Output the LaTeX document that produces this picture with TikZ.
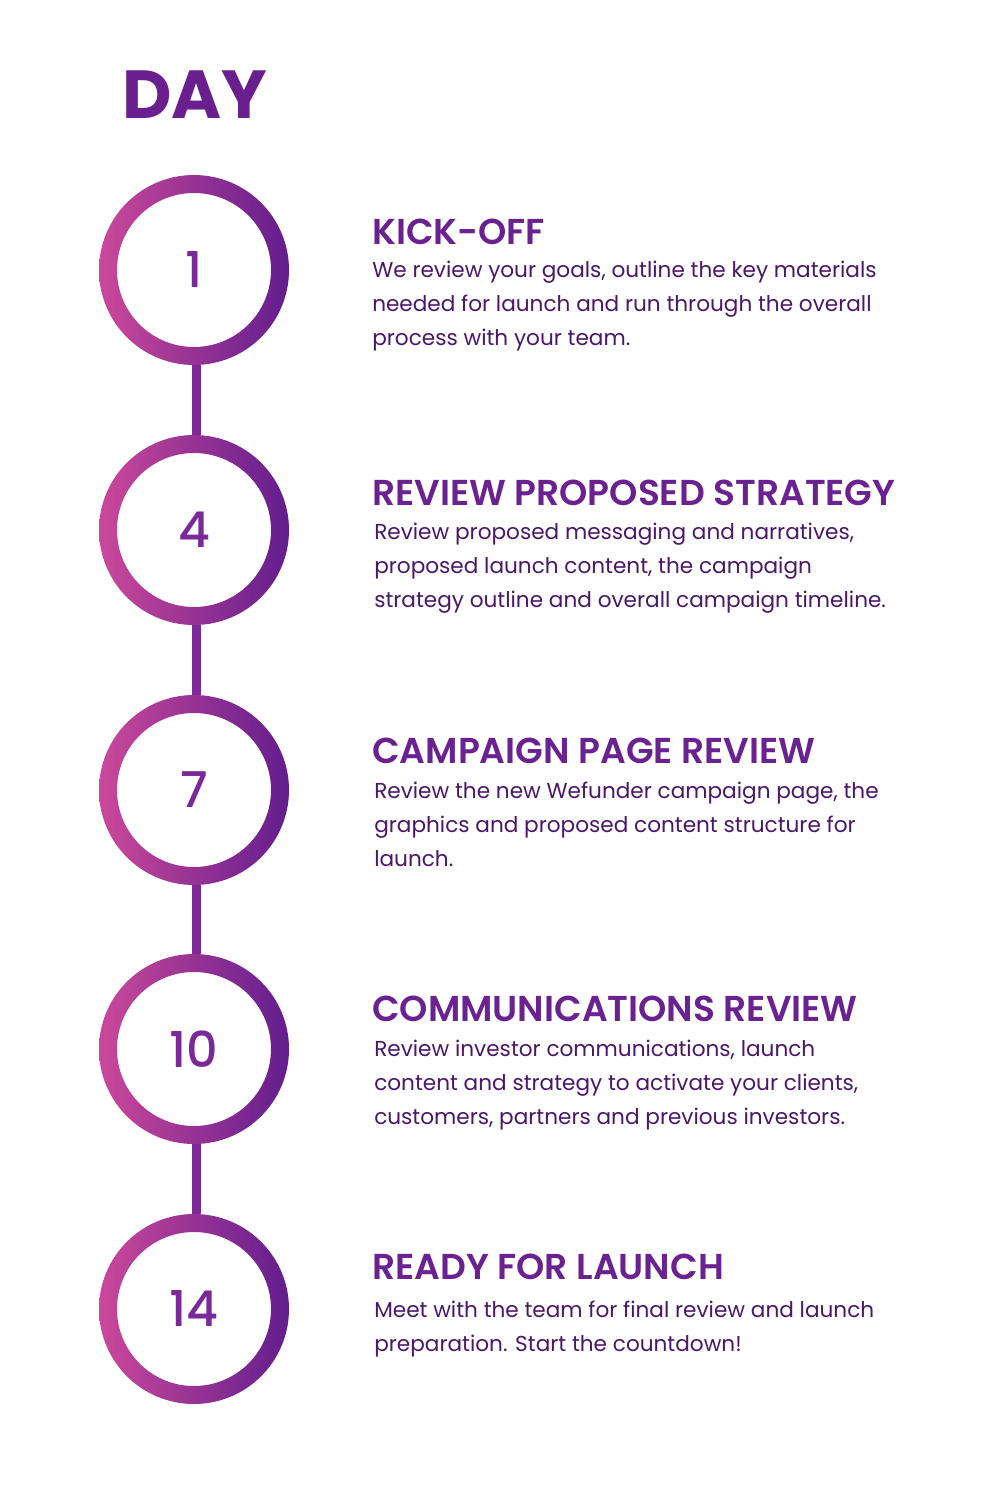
\documentclass[tikz,border=0pt]{standalone}
\usepackage{fontspec}
\setmainfont{Poppins}
\newfontfamily\medfont{Poppins Medium}
\newfontfamily\semifont{Poppins SemiBold}
\definecolor{dayc}{HTML}{6A1F8F}
\definecolor{headc}{HTML}{6B2291}
\definecolor{bodyc}{HTML}{4B176B}
\definecolor{numc}{HTML}{7A2A98}
\definecolor{ringl}{HTML}{CB489A}
\definecolor{ringr}{HTML}{621E8E}
\definecolor{linec}{HTML}{7B2A98}
\tikzset{
  ringnode/.style={circle, minimum size=142.5pt, inner sep=0pt, text=numc,
    font=\medfont\fontsize{37}{40}\selectfont},
  heading/.style={anchor=base west, inner sep=0pt, text=headc,
    font=\semifont\fontsize{27}{30}\selectfont},
  bodyline/.style={anchor=base west, inner sep=0pt, text=bodyc,
    font=\fontsize{16.2}{20}\selectfont},
  connector/.style={draw=linec, line width=6.75pt},
}
\newcommand{\ringat}[1]{%
  \shade[left color=ringl, right color=ringr, even odd rule]
    (#1) circle (71.25pt) (#1) circle (57.75pt);}
\begin{document}
\begin{tikzpicture}[x=0.75pt,y=-0.75pt]
\useasboundingbox (0,0) rectangle (1000,1500);
\fill[white] (0,0) rectangle (1000,1500);
\node[anchor=base west, inner sep=0pt, text=dayc, font=\fontsize{51}{54}\selectfont\bfseries] (day) at (122,118) {DAY};
% rings
\node[ringnode] (d1) at (194,270) {1};
\node[ringnode] (d4) at (194,530) {4};
\node[ringnode] (d7) at (194,790) {7};
\node[ringnode] (d10) at (194,1049) {10};
\node[ringnode] (d14) at (194,1309) {14};
\draw[connector] ([xshift=2pt]d1.south) -- ([xshift=2pt]d4.north);
\draw[connector] ([xshift=2pt]d4.south) -- ([xshift=2pt]d7.north);
\draw[connector] ([xshift=2pt]d7.south) -- ([xshift=2pt]d10.north);
\draw[connector] ([xshift=2pt]d10.south) -- ([xshift=2pt]d14.north);
\ringat{d1}\ringat{d4}\ringat{d7}\ringat{d10}\ringat{d14}
% section 1
\node[heading] (h1) at (372,244) {KICK-OFF};
\node[bodyline] (t1a) at (372,277) {We review your goals, outline the key materials};
\node[bodyline] (t1b) at (372,311) {needed for launch and run through the overall};
\node[bodyline] (t1c) at (372,345) {process with your team.};
% section 2
\node[heading] (h2) at (372,505) {REVIEW PROPOSED STRATEGY};
\node[bodyline] (t2a) at (374,539) {Review proposed messaging and narratives,};
\node[bodyline] (t2b) at (374,573) {proposed launch content, the campaign};
\node[bodyline] (t2c) at (374,607) {strategy outline and overall campaign timeline.};
% section 3
\node[heading] (h3) at (372,763) {CAMPAIGN PAGE REVIEW};
\node[bodyline] (t3a) at (374,798) {Review the new Wefunder campaign page, the};
\node[bodyline] (t3b) at (374,832) {graphics and proposed content structure for};
\node[bodyline] (t3c) at (374,866) {launch.};
% section 4
\node[heading] (h4) at (372,1021) {COMMUNICATIONS REVIEW};
\node[bodyline] (t4a) at (374,1056) {Review investor communications, launch};
\node[bodyline] (t4b) at (374,1090) {content and strategy to activate your clients,};
\node[bodyline] (t4c) at (374,1124) {customers, partners and previous investors.};
% section 5
\node[heading] (h5) at (372,1279) {READY FOR LAUNCH};
\node[bodyline] (t5a) at (374,1317) {Meet with the team for final review and launch};
\node[bodyline] (t5b) at (374,1351) {preparation. Start the countdown!};
\end{tikzpicture}
\end{document}
